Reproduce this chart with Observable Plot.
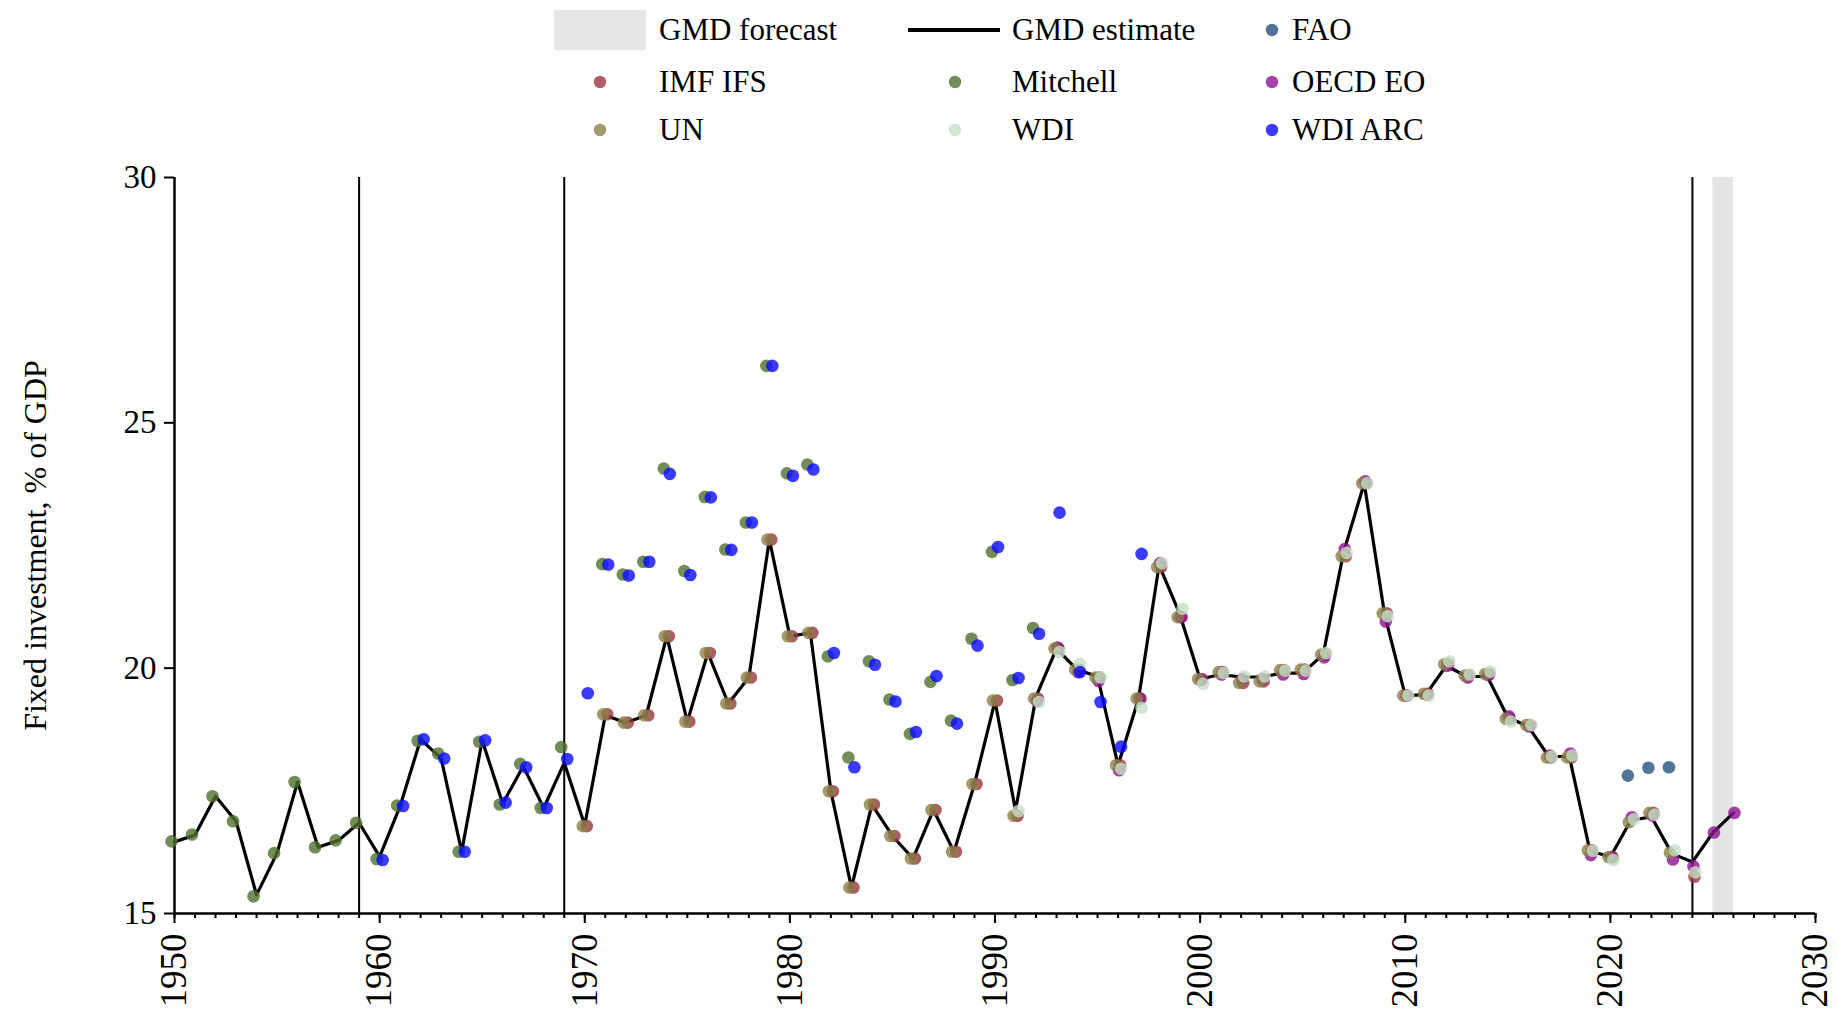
<!DOCTYPE html>
<html>
<head>
<meta charset="utf-8">
<script src="https://cdn.jsdelivr.net/npm/d3@7"></script>
<script src="https://cdn.jsdelivr.net/npm/@observablehq/plot@0.6"></script>
<style>
  html, body { margin: 0; padding: 0; background: #fff; }
  body { width: 1837px; height: 1018px; overflow: hidden; font-family: "Liberation Serif", "Times New Roman", serif; color: #000; }
  #legend { position: relative; width: 1837px; height: 150px; }
  #legend .txt { position: absolute; font-size: 31px; line-height: 1; white-space: nowrap; transform: translateY(-52%); }
  #legend .sym { position: absolute; }
  #chart svg { display: block; }
  #chart svg text { font-family: "Liberation Serif", "Times New Roman", serif; }
</style>
</head>
<body>
<div id="legend"></div>
<div id="chart"></div>
<script>
// ---------------- data ----------------
const yLabel = "Fixed investment, % of GDP";
const xMajorTicks = [1950, 1960, 1970, 1980, 1990, 2000, 2010, 2020, 2030];
const yTicks = [15, 20, 25, 30];
const breakYears = [1959, 1969, 2024];
const forecastBand = [[2025, 2026]];

const gmdStart = 1950;
const gmdEstimate = [
  16.46,16.60,17.39,16.88,15.38,16.23,17.68,16.35,16.49,16.85,
  16.16,17.19,18.55,18.16,16.26,18.53,17.24,18.00,17.15,18.07,
  16.80,19.04,18.89,19.04,20.65,18.91,20.31,19.28,19.81,22.62,
  20.65,20.72,17.49,15.53,17.22,16.58,16.12,17.11,16.26,17.64,
  19.33,17.10,19.42,20.40,19.97,19.83,18.02,19.38,22.10,21.11,
  19.78,19.87,19.82,19.82,19.90,19.90,20.28,22.37,23.77,21.08,
  19.44,19.46,20.05,19.83,19.83,19.00,18.81,18.20,18.20,16.28,
  16.15,16.90,16.97,16.22,16.05,16.65,17.05
];

const faoStart = 2021;
const fao = [17.81,17.97,17.98];

const imfStart = 1970;
const imfIfs = [
  16.78,19.06,18.89,19.04,20.65,18.91,20.31,19.28,19.81,22.62,
  20.65,20.72,17.49,15.53,17.22,16.58,16.12,17.11,16.26,17.64,
  19.34,16.99,19.38,20.40,19.97,19.81,18.02,19.38,22.06,21.04,
  19.78,19.92,19.70,19.73,19.96,19.97,20.28,22.28,23.77,21.12,
  19.44,19.48,20.08,19.85,19.88,18.97,18.84,18.18,18.18,16.29,
  16.15,null,17.05,null,15.75
];

const mitchellStart = 1950;
const mitchell = [
  16.47,16.61,17.39,16.88,15.35,16.23,17.68,16.35,16.49,16.85,
  16.11,17.20,18.52,18.26,16.26,18.50,17.22,18.05,17.15,18.39,
  null,22.12,21.91,22.17,24.07,21.98,23.49,22.42,22.97,26.16,
  23.97,24.15,20.24,18.18,20.14,19.36,18.66,19.72,18.93,20.60,
  22.37,19.76,20.82
];

const oecdStart = 1992;
const oecdEo = [
  19.33,20.42,19.92,19.74,17.92,19.38,22.14,21.04,19.76,19.87,
  19.78,19.78,19.87,19.88,20.22,22.43,23.81,20.95,19.44,19.46,
  20.05,19.81,19.86,19.02,18.81,18.22,18.26,16.19,16.15,16.96,
  17.00,16.10,15.96,16.65,17.05
];

const unStart = 1970;
const un = [
  16.78,19.06,18.89,19.04,20.65,18.91,20.31,19.28,19.81,22.62,
  20.65,20.72,17.49,15.53,17.22,16.58,16.12,17.11,16.26,17.64,
  19.34,16.99,19.38,20.40,19.97,19.81,18.02,19.38,22.06,21.04,
  19.78,19.92,19.70,19.73,19.96,19.97,20.28,22.28,23.77,21.12,
  19.44,19.48,20.08,19.85,19.88,18.97,18.84,18.18,18.18,16.29,
  16.15,16.86,17.05,16.24
];

const wdiStart = 1991;
const wdi = [
  17.09,19.31,20.33,20.09,19.81,17.95,19.19,22.14,21.21,19.68,
  19.90,19.83,19.83,19.95,19.95,20.31,22.35,23.77,21.06,19.44,
  19.44,20.14,19.87,19.93,18.91,18.84,18.20,18.22,16.28,16.09,
  16.92,17.01,16.29,15.84
];

const wdiArcStart = 1960;
const wdiArc = [
  16.09,17.19,18.55,18.16,16.26,18.53,17.26,17.98,17.15,18.15,
  19.49,22.11,21.89,22.17,23.96,21.90,23.48,22.41,22.97,26.16,
  23.92,24.05,20.31,17.98,20.07,19.32,18.70,19.84,18.87,20.46,
  22.47,19.80,20.70,23.17,19.92,19.31,18.40,22.33
];

const sourceNames = ["FAO", "IMF IFS", "Mitchell", "OECD EO", "UN", "WDI", "WDI ARC"];
const sourceStarts = [faoStart, imfStart, mitchellStart, oecdStart, unStart, wdiStart, wdiArcStart];
const sourceValues = [fao, imfIfs, mitchell, oecdEo, un, wdi, wdiArc];
const sourceColors = ["#24507c", "#9a3440", "#50702e", "#8e1090", "#8c7f48", "#c4e0c4", "#0a0aff"];
const sourceDx = [-3, 2, -3, 1, -2, 3, 3];
const dotOpacity = 0.8;
const serif = '"Liberation Serif", "Times New Roman", serif';

// ---------------- tables ----------------
const toRows = (start, vals) => vals.map((v, i) => ({year: start + i, value: v})).filter(d => d.value != null);
const gmdRows = toRows(gmdStart, gmdEstimate);
const sourceRows = sourceValues.map((vals, i) => toRows(sourceStarts[i], vals));
const minorTicks = d3.range(xMajorTicks[0], xMajorTicks[xMajorTicks.length - 1] + 1);

// ---------------- legend ----------------
const legend = document.getElementById("legend");
const colSym = [600, 955, 1272];
const colTxt = [659, 1012, 1292];
const rowY = [30, 82, 130];
function addText(x, y, s) {
  const d = document.createElement("div");
  d.className = "txt"; d.style.left = x + "px"; d.style.top = y + "px"; d.textContent = s;
  legend.appendChild(d);
}
function addDot(x, y, color) {
  const ns = "http://www.w3.org/2000/svg";
  const svg = document.createElementNS(ns, "svg");
  svg.setAttribute("class", "sym"); svg.setAttribute("width", 16); svg.setAttribute("height", 16);
  svg.style.left = (x - 8) + "px"; svg.style.top = (y - 8) + "px";
  const c = document.createElementNS(ns, "circle");
  c.setAttribute("cx", 8); c.setAttribute("cy", 8); c.setAttribute("r", 6.2);
  c.setAttribute("fill", color); c.setAttribute("fill-opacity", dotOpacity);
  svg.appendChild(c); legend.appendChild(svg);
}
const box = document.createElement("div");
box.className = "sym";
Object.assign(box.style, {left: "554px", top: "10px", width: "92px", height: "40px", background: "#e5e5e5"});
legend.appendChild(box);
addText(colTxt[0], rowY[0], "GMD forecast");
const ln = document.createElement("div");
ln.className = "sym";
Object.assign(ln.style, {left: "908px", top: (rowY[0] - 2) + "px", width: "92px", height: "4px", background: "#000"});
legend.appendChild(ln);
addText(colTxt[1], rowY[0], "GMD estimate");
addDot(colSym[2], rowY[0], sourceColors[0]);
addText(colTxt[2], rowY[0], sourceNames[0]);
for (let k = 1; k < sourceNames.length; k++) {
  const idx = k - 1, row = 1 + Math.floor(idx / 3), col = idx % 3;
  addDot(colSym[col], rowY[row], sourceColors[k]);
  addText(colTxt[col], rowY[row], sourceNames[k]);
}

// ---------------- chart ----------------
const dotMarks = sourceRows.map((rows, i) =>
  Plot.dot(rows, {x: "year", y: "value", r: 6.3, fill: sourceColors[i], fillOpacity: dotOpacity, stroke: "none", dx: sourceDx[i]})
);

const chart = Plot.plot({
  width: 1837,
  height: 868,
  marginTop: 27,
  marginBottom: 105,
  marginLeft: 174,
  marginRight: 22,
  style: {fontFamily: serif, background: "#fff", color: "#000", overflow: "visible"},
  x: {domain: [xMajorTicks[0], xMajorTicks[xMajorTicks.length - 1]]},
  y: {domain: [yTicks[0], yTicks[yTicks.length - 1]]},
  marks: [
    Plot.rect(forecastBand, {x1: d => d[0], x2: d => d[1], fill: "#e4e4e4"}),
    Plot.ruleX(breakYears, {stroke: "#000", strokeWidth: 2}),
    Plot.ruleX([xMajorTicks[0]], {stroke: "#000", strokeWidth: 2.5}),
    Plot.ruleY([yTicks[0]], {stroke: "#000", strokeWidth: 2.5}),
    Plot.axisY({ticks: yTicks, tickSize: 10, tickPadding: 8, fontSize: 33, fontFamily: serif, strokeWidth: 2, label: null, tickFormat: d => String(d)}),
    Plot.axisX({ticks: minorTicks, tickSize: 5, strokeWidth: 2, label: null, tickFormat: () => ""}),
    Plot.axisX({ticks: xMajorTicks, tickSize: 10, tickPadding: 10, tickRotate: -90, fontSize: 37, fontFamily: serif, strokeWidth: 2, label: null, tickFormat: d => String(d)}),
    Plot.text([yLabel], {frameAnchor: "left", dx: -139, rotate: -90, textAnchor: "middle", fontSize: 32, fontFamily: serif, text: d => d}),
    Plot.line(gmdRows, {x: "year", y: "value", stroke: "#000", strokeWidth: 3.2, strokeLinejoin: "round"}),
    ...dotMarks
  ]
});
document.getElementById("chart").appendChild(chart);
</script>
</body>
</html>
